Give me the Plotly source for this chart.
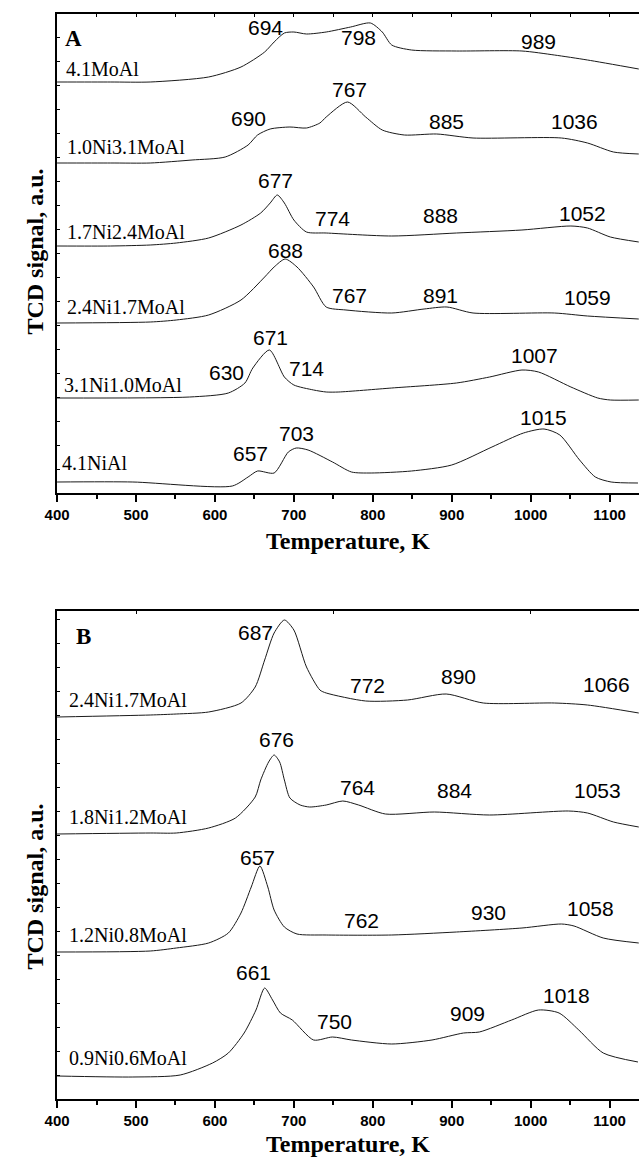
import plotly.graph_objects as go

W, H = 639, 1159

# ---------------- Panel A data (Temperature K, TCD signal a.u.) ----------------
A_series_names = ["4.1MoAl", "1.0Ni3.1MoAl", "1.7Ni2.4MoAl", "2.4Ni1.7MoAl", "3.1Ni1.0MoAl", "4.1NiAl"]

A_MoAl_T = [400, 468, 518, 592, 633, 663, 675, 688, 700, 716, 741, 772, 797, 812, 824, 849, 906, 989, 1030, 1072, 1137]
A_MoAl_S = [411, 411, 411, 416, 426, 441, 451, 460, 461, 459, 461, 466, 470, 461, 448, 443, 442, 442, 438, 433, 424]

A_10Ni_T = [400, 468, 518, 571, 613, 642, 654, 670, 695, 716, 733, 741, 768, 791, 812, 840, 881, 927, 1039, 1072, 1105, 1137]
A_10Ni_S = [330, 330, 330, 333, 336, 348, 358, 364, 366, 365, 370, 376, 391, 376, 363, 358, 359, 355, 355, 350, 341, 339]

A_17Ni_T = [400, 468, 518, 551, 592, 633, 658, 670, 679, 688, 700, 716, 741, 824, 906, 989, 1051, 1072, 1101, 1137]
A_17Ni_S = [247, 247, 248, 250, 255, 268, 280, 290, 298, 290, 273, 261, 260, 257, 260, 263, 267, 265, 256, 251]

A_24Ni_T = [400, 518, 551, 592, 633, 663, 675, 689, 704, 725, 741, 766, 824, 865, 894, 927, 1030, 1072, 1137]
A_24Ni_S = [170, 171, 173, 178, 193, 216, 226, 234, 226, 206, 186, 183, 180, 184, 186, 180, 180, 177, 174]

A_31Ni_T = [400, 568, 617, 638, 648, 669, 688, 700, 725, 741, 757, 824, 906, 948, 989, 1010, 1051, 1085, 1101, 1137]
A_31Ni_S = [95, 96, 100, 110, 125, 143, 116, 108, 103, 101, 101, 105, 110, 116, 123, 121, 106, 95, 93, 93]

A_NiAl_T = [400, 496, 622, 642, 654, 675, 693, 703, 718, 749, 773, 798, 849, 900, 951, 991, 1017, 1037, 1062, 1082, 1102, 1136]
A_NiAl_S = [11, 11, 7, 16, 22, 20, 41, 45, 43, 31, 21, 20, 22, 28, 46, 60, 64, 58, 33, 16, 11, 10]

A_peak_text = ["694", "798", "989", "690", "767", "885", "1036", "677", "774", "888", "1052",
               "688", "767", "891", "1059", "630", "671", "714", "1007", "657", "703", "1015"]

# ---------------- Panel B data ----------------
B_series_names = ["2.4Ni1.7MoAl", "1.8Ni1.2MoAl", "1.2Ni0.8MoAl", "0.9Ni0.6MoAl"]

B_24Ni_T = [400, 518, 551, 592, 633, 651, 663, 675, 688, 700, 716, 733, 741, 791, 844, 893, 940, 1030, 1072, 1137]
B_24Ni_S = [382, 384, 385, 387, 396, 412, 439, 466, 479, 469, 432, 409, 406, 398, 399, 405, 396, 396, 394, 386]

B_18Ni_T = [400, 518, 551, 592, 626, 651, 658, 668, 675, 682, 688, 695, 708, 720, 741, 762, 782, 816, 878, 948, 1048, 1072, 1105, 1137]
B_18Ni_S = [265, 266, 266, 271, 281, 302, 319, 337, 344, 337, 319, 301, 294, 292, 294, 298, 294, 285, 287, 284, 288, 286, 277, 272]

B_12Ni_T = [400, 518, 551, 592, 617, 633, 646, 657, 667, 675, 688, 704, 741, 824, 906, 989, 1039, 1055, 1092, 1137]
B_12Ni_S = [147, 148, 151, 156, 166, 186, 212, 233, 212, 189, 172, 165, 164, 164, 167, 171, 175, 173, 161, 156]

B_09Ni_T = [400, 496, 556, 597, 617, 637, 652, 663, 673, 683, 698, 725, 749, 773, 824, 875, 915, 935, 976, 1010, 1036, 1061, 1092, 1136]
B_09Ni_S = [23, 22, 24, 36, 46, 66, 89, 111, 99, 86, 79, 59, 62, 59, 55, 59, 66, 67, 79, 89, 86, 69, 46, 37]

B_peak_text = ["687", "772", "890", "1066", "676", "764", "884", "1053",
               "657", "762", "930", "1058", "661", "750", "909", "1018"]

x_ticks = [400, 500, 600, 700, 800, 900, 1000, 1100]

# ---------------- layout positions (data coords) ----------------
A_peak_pos = [(664, 466), (782, 456), (1010, 452), (642, 375), (770, 404), (894, 372), (1055, 372),
              (677, 313), (749, 275), (886, 278), (1066, 280), (689, 243), (770, 198), (886, 198),
              (1072, 196), (615, 121), (670, 156), (716, 125), (1005, 138), (645, 40), (703, 60), (1016, 76)]
A_name_pos = [(409, 424), (410, 346), (410, 261), (410, 186), (406, 108), (404, 30)]
B_peak_pos = [(652, 467), (793, 414), (909, 423), (1096, 415), (678, 360), (781, 312), (904, 309),
              (1085, 309), (654, 242), (786, 179), (947, 187), (1076, 191), (649, 127), (751, 78),
              (920, 86), (1045, 104)]
B_name_pos = [(412, 399), (412, 282), (412, 164), (412, 41)]

XR = [400, 1137.3]
dom_x = [45 / W, 1.0]
domA = [1 - 493 / H, 1 - 14 / H]
domB = [1 - 1099 / H, 1 - 611 / H]

fig = go.Figure()
line_style = dict(color="#1a1a1a", width=1, shape="spline", smoothing=0.7)

for T, S in [(A_MoAl_T, A_MoAl_S), (A_10Ni_T, A_10Ni_S), (A_17Ni_T, A_17Ni_S),
             (A_24Ni_T, A_24Ni_S), (A_31Ni_T, A_31Ni_S), (A_NiAl_T, A_NiAl_S)]:
    fig.add_trace(go.Scatter(x=T, y=S, mode="lines", line=line_style, xaxis="x", yaxis="y",
                             showlegend=False, hoverinfo="skip"))
for T, S in [(B_24Ni_T, B_24Ni_S), (B_18Ni_T, B_18Ni_S), (B_12Ni_T, B_12Ni_S), (B_09Ni_T, B_09Ni_S)]:
    fig.add_trace(go.Scatter(x=T, y=S, mode="lines", line=line_style, xaxis="x2", yaxis="y2",
                             showlegend=False, hoverinfo="skip"))
# helper empty traces to realise the top (mirror) axes
fig.add_trace(go.Scatter(x=[None], y=[None], xaxis="x3", yaxis="y", showlegend=False, hoverinfo="skip"))
fig.add_trace(go.Scatter(x=[None], y=[None], xaxis="x4", yaxis="y2", showlegend=False, hoverinfo="skip"))

tickfont = dict(family="Liberation Sans, Arial", size=15, color="black", weight="bold")
base_x = dict(domain=dom_x, range=XR, showgrid=False, zeroline=False, showline=True, linewidth=2,
              linecolor="black", ticks="outside", ticklen=7, tickwidth=1.5, tickcolor="black",
              tickvals=x_ticks, tickfont=tickfont,
              minor=dict(ticks="outside", ticklen=4, tickwidth=1.5, tickcolor="black", dtick=50, tick0=400))
base_y = dict(showgrid=False, zeroline=False, showline=True, linewidth=2, linecolor="black",
              ticks="inside", ticklen=3, tickwidth=1, tickcolor="black", dtick=24,
              showticklabels=False)
top_x = dict(domain=dom_x, range=XR, side="top", showgrid=False, zeroline=False, showline=True,
             linewidth=2, linecolor="black", ticks="inside", ticklen=3, tickwidth=1,
             tickcolor="black", showticklabels=False)

fig.update_layout(
    width=W, height=H, margin=dict(l=0, r=0, t=0, b=0),
    paper_bgcolor="white", plot_bgcolor="white",
    xaxis=dict(base_x, anchor="y"),
    yaxis=dict(base_y, domain=domA, range=[0, 479], anchor="x"),
    xaxis2=dict(base_x, anchor="y2"),
    yaxis2=dict(base_y, domain=domB, range=[0, 488], anchor="x2"),
    xaxis3=dict(top_x, overlaying="x", anchor="y", tickvals=list(range(450, 1101, 50))),
    xaxis4=dict(top_x, overlaying="x2", anchor="y2", tickvals=[500, 750, 1000]),
)

peak_font = dict(family="Liberation Sans, Arial", size=21, color="black")
name_font = dict(family="Liberation Serif, Times New Roman", size=20, color="black")
ann = []
for txt, (x, y) in zip(A_peak_text, A_peak_pos):
    ann.append(dict(text=txt, x=x, y=y, xref="x", yref="y", showarrow=False, font=peak_font,
                    xanchor="center", yanchor="middle"))
for txt, (x, y) in zip(A_series_names, A_name_pos):
    ann.append(dict(text=txt, x=x, y=y, xref="x", yref="y", xanchor="left", yanchor="middle",
                    showarrow=False, font=name_font))
for txt, (x, y) in zip(B_peak_text, B_peak_pos):
    ann.append(dict(text=txt, x=x, y=y, xref="x2", yref="y2", showarrow=False, font=peak_font,
                    xanchor="center", yanchor="middle"))
for txt, (x, y) in zip(B_series_names, B_name_pos):
    ann.append(dict(text=txt, x=x, y=y, xref="x2", yref="y2", xanchor="left", yanchor="middle",
                    showarrow=False, font=name_font))

letter_font = dict(family="Liberation Serif, Times New Roman", size=23, color="black", weight="bold")
ann.append(dict(text="A", x=421, y=455, xref="x", yref="y", showarrow=False, font=letter_font,
                xanchor="center", yanchor="middle"))
ann.append(dict(text="B", x=433, y=463, xref="x2", yref="y2", showarrow=False, font=letter_font,
                xanchor="center", yanchor="middle"))

title_font = dict(family="Liberation Serif, Times New Roman", size=24, color="black", weight="bold")
for yc in [541, 1144]:
    ann.append(dict(text="Temperature, K", x=342 / W, y=1 - yc / H, xref="paper", yref="paper",
                    showarrow=False, font=title_font, xanchor="center", yanchor="middle"))
for yc in [252, 887]:
    ann.append(dict(text="TCD signal, a.u.", x=22 / W, y=1 - yc / H, xref="paper", yref="paper",
                    showarrow=False, textangle=-90, font=title_font, xanchor="center", yanchor="middle"))
fig.update_layout(annotations=ann)

fig.write_html("out.html")
